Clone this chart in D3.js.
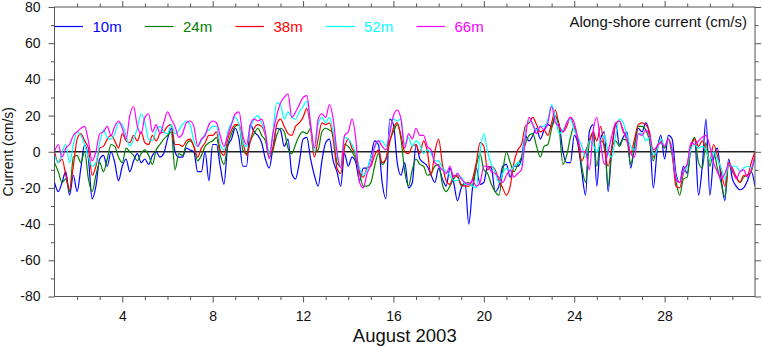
<!DOCTYPE html>
<html>
<head>
<meta charset="utf-8">
<script src="https://cdn.jsdelivr.net/npm/d3@7"></script>
<style>
  html, body { margin: 0; padding: 0; background: #fff; }
  svg { display: block; font-family: "Liberation Sans", Arial, Helvetica, sans-serif; }
</style>
</head>
<body>
<div id="container"></div>
<script>
// Along-shore current, August 2003, one sample every 4 hours from Aug 1 00:00
const stepHours = 4;
const startDay = 1;

const depths = ["10m", "24m", "38m", "52m", "66m"];
const colors = ["#0000ff", "#008000", "#ff0000", "#00ffff", "#ff00ff"];

const current10m = [
  -17,-22,-17,-11,-24,-13,-22,-9,4,-4,
  -26,-19,-4,-2,-8,0,-6,-16,-8,-4,
  -11,-5,-1,-6,-4,-7,-2,0,-3,-1,
  7,13,0,-3,-3,2,1,0,-11,-11,
  0,-16,4,4,-8,-18,3,7,13,7,
  -8,-8,15,11,9,5,-4,-9,2,13,
  12,3,7,-12,-15,-6,7,8,-4,-13,
  -19,-5,5,7,-5,-11,-19,-1,-8,-3,
  -6,-16,-9,-9,-3,6,4,-17,-26,18,
  15,-6,-13,-6,-20,-17,4,-4,-6,-8,
  -13,-17,-9,-15,-19,-9,-17,-27,-20,-17,
  -40,-20,-9,-18,-17,-8,-9,-22,-19,-8,
  -7,-14,-8,-8,-4,9,6,9,13,7,
  12,15,14,19,15,0,-6,-6,9,4,
  -11,-24,11,15,-19,7,11,-22,2,15,
  4,8,11,-9,3,13,11,16,9,-20,
  0,9,-4,9,7,-12,-17,-8,-12,3,
  7,-24,-8,18,-24,-4,2,-15,-27,-4,
  -15,-19,-21,-20,-16,-11,-19
];

const current24m = [
  -6,-11,-17,-15,-22,-3,-2,-6,0,-15,
  -22,-13,-6,-11,-4,4,3,-3,-6,2,
  0,-2,-5,-1,1,-2,-7,1,4,7,
  9,11,-10,-1,-2,4,6,3,-5,-2,
  3,5,6,8,-2,-7,4,10,14,15,
  1,-1,6,10,13,9,6,-3,1,9,
  13,11,2,-1,4,9,11,10,13,0,
  1,11,13,12,10,-6,-8,4,3,0,
  -4,-12,-19,-19,-17,-8,-1,-7,-4,6,
  11,15,7,-11,-19,-10,-4,-7,-8,-13,
  -12,-8,-7,-18,-22,-19,-15,-13,-19,-18,
  -17,-19,-8,-1,-10,-12,-18,-22,-24,-11,
  0,-6,-11,-7,-3,4,9,10,3,-3,
  3,4,13,20,13,-7,-2,8,14,6,
  -8,-17,5,10,-8,6,4,-19,2,6,
  3,7,6,-7,3,14,14,12,6,-5,
  3,5,2,7,-2,-16,-24,-15,-14,3,
  8,-6,-9,5,-8,0,-9,-17,-25,-7,
  -11,-14,-17,-14,-13,-11,-2
];

const current38m = [
  0,-6,-4,-13,-21,-8,7,10,6,2,
  -13,-8,2,3,7,9,6,2,10,6,
  5,9,6,11,5,4,9,6,10,11,
  14,15,4,4,3,6,7,3,-3,2,
  5,9,9,11,1,-2,7,12,15,15,
  6,-2,6,13,15,14,9,-1,2,15,
  18,14,10,9,14,16,19,24,13,-3,
  7,16,15,16,7,-9,-12,2,7,2,
  -2,-11,-14,-9,-8,-2,1,-6,-4,5,
  13,16,9,0,-1,3,4,-1,6,0,
  -13,0,7,-7,-16,-18,-13,-14,-18,-19,
  -19,-15,-6,5,3,-10,-8,-10,-16,-20,
  -24,-19,-6,1,4,14,16,19,15,11,
  12,9,16,23,14,11,14,19,13,6,
  -5,0,6,11,6,14,2,-8,2,15,
  17,11,8,-1,7,15,16,15,11,-3,
  3,6,3,7,0,-19,-20,-12,-7,3,
  7,3,6,1,-5,4,-2,-11,-19,-6,
  -9,-14,-17,-13,-13,-6,0
];

const current52m = [
  -2,-6,0,4,-6,4,11,9,4,-3,
  -8,-6,5,12,8,7,10,16,15,9,
  3,7,13,21,16,7,6,12,14,11,
  10,15,10,12,15,17,15,6,3,6,
  10,12,14,14,4,1,11,16,19,15,
  5,3,13,18,20,16,10,-1,11,27,
  26,18,22,19,18,22,25,28,15,0,
  15,19,16,19,11,-2,-8,8,7,4,
  -1,-9,-13,-10,-3,2,6,6,3,11,
  18,17,18,4,8,3,6,4,-1,1,
  -1,-5,-5,-9,-11,-13,-16,-16,-14,-18,
  -18,-19,-20,0,10,0,-7,-11,-17,-12,
  -9,-11,-8,-6,-7,11,17,15,12,14,
  14,18,26,19,10,12,16,18,12,8,
  3,-3,6,4,0,6,9,0,-3,9,
  18,16,9,3,1,10,10,6,8,-2,
  1,7,3,7,1,-14,-17,-11,-8,2,
  4,2,3,1,-5,0,-4,-9,-15,-7,
  -8,-8,-11,-9,-8,-9,-5
];

const current66m = [
  0,4,-3,2,4,9,11,13,14,6,
  -5,0,10,11,14,9,14,17,13,7,
  20,25,14,10,19,21,11,15,10,16,
  22,18,14,8,10,16,17,14,3,7,
  9,15,17,16,9,3,9,15,21,22,
  9,4,15,18,17,18,11,-4,10,20,
  27,30,32,19,22,26,30,31,15,2,
  18,21,19,26,18,0,-9,9,11,18,
  7,-17,-20,-12,-7,3,6,3,1,10,
  20,23,18,2,10,7,13,9,9,3,
  1,-6,-8,-10,-12,-8,-14,-12,-15,-17,
  -18,-16,-19,-17,-8,-8,-11,-12,-14,-17,
  -13,-10,-14,-12,-10,7,19,15,10,14,
  12,16,25,16,14,11,16,19,16,7,
  0,0,-10,11,19,5,-7,0,9,16,
  17,12,6,-1,-3,10,9,12,9,1,
  3,5,3,7,1,-15,-17,-10,-7,5,
  4,6,8,9,3,-6,-11,-15,-12,-7,
  -10,-15,-11,-10,-14,-10,-2
];

const series = [current10m, current24m, current38m, current52m, current66m];

const xMajorTicks = [4, 8, 12, 16, 20, 24, 28];
const yMajorTicks = [-80, -60, -40, -20, 0, 20, 40, 60, 80];

const width = 762;
const height = 346;
const marginTop = 7;
const marginRight = 7;
const marginBottom = 49.5;
const marginLeft = 54.5;

const x = d3
  .scaleLinear()
  .domain([1, 32])
  .range([marginLeft, width - marginRight]);

const y = d3
  .scaleLinear()
  .domain([-80, 80])
  .range([height - marginBottom, marginTop]);

const svg = d3.create("svg").attr("width", width).attr("height", height);

svg
  .append("defs")
  .append("clipPath")
  .attr("id", "plot-clip")
  .append("rect")
  .attr("x", x(1))
  .attr("y", y(80))
  .attr("width", x(32) - x(1))
  .attr("height", y(-80) - y(80));

const xMinor = d3.range(2, 32).filter((d) => !xMajorTicks.includes(d));
const yMinor = d3.range(-70, 80, 20);

// axes: outward ticks on all four sides, labels only on left and bottom
const tickColor = "#555";
const styleAxis = (g) => {
  g.select(".domain").remove();
  g.selectAll("line").attr("stroke", tickColor);
  g.selectAll("text")
    .attr("fill", "#111")
    .attr("font-size", "14px")
    .attr("font-family", '"Liberation Sans", Arial, sans-serif');
};

const drawAxis = (axisFn, scale, majors, minors, transform, labels) => {
  svg
    .append("g")
    .attr("transform", transform)
    .call(axisFn(scale).tickValues(minors).tickSize(3.5).tickFormat(""))
    .call(styleAxis);
  return svg
    .append("g")
    .attr("transform", transform)
    .call(
      axisFn(scale)
        .tickValues(majors)
        .tickSize(6)
        .tickPadding(labels ? 8 : 0)
        .tickFormat(labels ? (d) => d : "")
    )
    .call(styleAxis);
};

const xAxis = drawAxis(d3.axisBottom, x, xMajorTicks, xMinor, `translate(0,${y(-80)})`, true);
drawAxis(d3.axisTop, x, xMajorTicks, xMinor, `translate(0,${y(80)})`, false);
drawAxis(d3.axisLeft, y, yMajorTicks, yMinor, `translate(${x(1)},0)`, true);
drawAxis(d3.axisRight, y, yMajorTicks, yMinor, `translate(${x(32)},0)`, false);

xAxis.selectAll("text").attr("dy", "0.72em");

// zero reference line
svg
  .append("line")
  .attr("x1", x(1))
  .attr("x2", x(32))
  .attr("y1", y(0))
  .attr("y2", y(0))
  .attr("stroke", "#222")
  .attr("stroke-width", 1.3);

const line = d3
  .line()
  .x((d, i) => x(startDay + (i * stepHours) / 24))
  .y((d) => y(d))
  .curve(d3.curveMonotoneX);

svg
  .append("g")
  .attr("clip-path", "url(#plot-clip)")
  .selectAll("path")
  .data(series)
  .enter()
  .append("path")
  .attr("fill", "none")
  .attr("stroke", (d, i) => colors[i])
  .attr("stroke-width", 1.2)
  .attr("stroke-linejoin", "round")
  .attr("d", line);

// frame
svg
  .append("rect")
  .attr("x", x(1))
  .attr("y", y(80))
  .attr("width", x(32) - x(1))
  .attr("height", y(-80) - y(80))
  .attr("fill", "none")
  .attr("stroke", tickColor)
  .attr("stroke-width", 1);

// legend row inside the top of the plot
const legend = svg
  .append("g")
  .attr("transform", `translate(${x(1)}, 26.5)`);

const item = legend
  .selectAll("g")
  .data(depths)
  .enter()
  .append("g")
  .attr("transform", (d, i) => `translate(${i * 90.5},0)`);

item
  .append("line")
  .attr("x1", 0)
  .attr("x2", 28.5)
  .attr("stroke", (d, i) => colors[i])
  .attr("stroke-width", 1.2);

item
  .append("text")
  .attr("x", 38)
  .attr("y", 5.5)
  .attr("fill", (d, i) => colors[i])
  .attr("font-size", "15px")
  .text((d) => d);

svg
  .append("text")
  .attr("x", 747)
  .attr("y", 26.5)
  .attr("text-anchor", "end")
  .attr("font-size", "15px")
  .attr("fill", "#111")
  .text("Along-shore current (cm/s)");

svg
  .append("text")
  .attr("transform", `translate(13,${y(0)}) rotate(-90)`)
  .attr("text-anchor", "middle")
  .attr("font-size", "14px")
  .attr("fill", "#111")
  .text("Current (cm/s)");

svg
  .append("text")
  .attr("x", (x(1) + x(32)) / 2)
  .attr("y", 342)
  .attr("text-anchor", "middle")
  .attr("font-size", "18.5px")
  .attr("fill", "#111")
  .text("August 2003");

d3.select("#container").append(() => svg.node());
</script>
</body>
</html>
